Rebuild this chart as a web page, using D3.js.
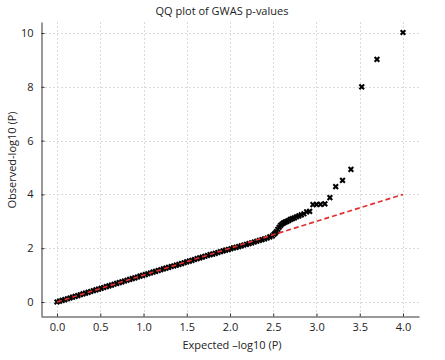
<!DOCTYPE html>
<html>
<head>
<meta charset="utf-8">
<script src="https://cdn.jsdelivr.net/npm/d3@7"></script>
<style>
  html, body { margin: 0; padding: 0; background: #fff; }
  svg { display: block; font-family: "Open Sans", "Noto Sans", sans-serif; }
</style>
</head>
<body>
<svg id="chart" width="445" height="360"></svg>
<script>
// ---- data ----
const title = "QQ plot of GWAS p-values";
const xLabel = "Expected \u2013log10 (P)";
const yLabel = "Observed-log10 (P)";
const xTicks = [0.0, 0.5, 1.0, 1.5, 2.0, 2.5, 3.0, 3.5, 4.0];
const yTicks = [0, 2, 4, 6, 8, 10];

// bulk of the SNPs (hugging the diagonal)
const bulkExpected = [0.00,0.03,0.06,0.09,0.12,0.15,0.18,0.21,0.24,0.27,0.30,0.33,0.36,0.39,0.42,0.45,0.48,0.51,0.54,0.57,
  0.60,0.63,0.66,0.69,0.72,0.75,0.78,0.81,0.84,0.87,0.90,0.93,0.96,0.99,1.02,1.05,1.08,1.11,1.14,1.17,
  1.20,1.23,1.26,1.29,1.32,1.35,1.38,1.41,1.44,1.47,1.50,1.53,1.56,1.59,1.62,1.65,1.68,1.71,1.74,1.77,
  1.80,1.83,1.86,1.89,1.92,1.95,1.98,2.01,2.04,2.07,2.10,2.13,2.16,2.19,2.22,2.25,2.28,2.31,2.34,2.37,
  2.40,2.43,2.46,2.49];
const bulkObserved = [0.00,0.03,0.06,0.09,0.12,0.15,0.18,0.21,0.24,0.27,0.30,0.33,0.36,0.39,0.42,0.45,0.48,0.51,0.54,0.57,
  0.60,0.63,0.66,0.69,0.72,0.75,0.78,0.81,0.84,0.87,0.90,0.93,0.96,0.99,1.02,1.05,1.08,1.11,1.14,1.17,
  1.20,1.23,1.26,1.29,1.32,1.34,1.37,1.40,1.43,1.46,1.49,1.52,1.55,1.58,1.61,1.64,1.67,1.70,1.73,1.76,
  1.78,1.81,1.84,1.87,1.90,1.93,1.95,1.98,2.01,2.03,2.06,2.09,2.12,2.14,2.17,2.20,2.23,2.26,2.29,2.32,
  2.35,2.38,2.42,2.46];

// upper tail (top-ranked SNPs)
const tailExpected = [4.000,3.699,3.523,3.398,3.301,3.222,3.155,3.097,3.046,3.000,2.959,2.921,2.886,2.854,2.824,
  2.796,2.770,2.745,2.721,2.699,2.678,2.658,2.638,2.620,2.602,2.585,2.569,2.553,2.538,2.523,2.509];
const tailObserved = [10.02,9.02,8.00,4.93,4.52,4.29,3.88,3.65,3.63,3.63,3.62,3.37,3.35,3.28,3.24,
  3.20,3.17,3.13,3.10,3.07,3.03,3.00,2.97,2.94,2.90,2.85,2.78,2.70,2.62,2.56,2.52];

// y = x reference line end points
const refLine = [0, 4];

// ---- chart ----
const svg = d3.select("#chart");
const x = d3.scaleLinear().domain([-0.185, 4.185]).range([41, 419]);
const y = d3.scaleLinear().domain([-0.52, 10.41]).range([316, 22]);

// grid
const grid = svg.append("g").attr("stroke", "#dadada").attr("stroke-width", 1).attr("stroke-dasharray", "2,2");
grid.selectAll("line.v").data(xTicks).join("line")
  .attr("x1", d => Math.round(x(d)) + 0.5).attr("x2", d => Math.round(x(d)) + 0.5)
  .attr("y1", y.range()[1]).attr("y2", y.range()[0]);
grid.selectAll("line.h").data(yTicks).join("line")
  .attr("y1", d => Math.round(y(d)) + 0.5).attr("y2", d => Math.round(y(d)) + 0.5)
  .attr("x1", x.range()[0]).attr("x2", x.range()[1]);

// axes
const xAxis = svg.append("g").attr("transform", `translate(0,${y.range()[0] + 0.5})`)
  .call(d3.axisBottom(x).tickValues(xTicks).tickFormat(d3.format(".1f")).tickSizeInner(-3).tickSizeOuter(0).tickPadding(7));
const yAxis = svg.append("g").attr("transform", `translate(${x.range()[0] + 0.5},0)`)
  .call(d3.axisLeft(y).tickValues(yTicks).tickFormat(d3.format("d")).tickSizeInner(-3).tickSizeOuter(0).tickPadding(8));
[xAxis, yAxis].forEach(a => {
  a.select(".domain").attr("stroke", "#333");
  a.selectAll(".tick line").attr("stroke", "#333");
  a.selectAll(".tick text").attr("fill", "#222").style("font-size", "11px").style("font-family", "'Open Sans', sans-serif");
});

// points
const sym = d3.symbol().type(d3.symbolTimes).size(16);
const bulk = bulkExpected.map((e, i) => [e, bulkObserved[i]]);
const tail = tailExpected.map((e, i) => [e, tailObserved[i]]);
svg.append("g").selectAll("path").data(bulk.concat(tail)).join("path")
  .attr("transform", d => `translate(${x(d[0])},${y(d[1])})`)
  .attr("d", sym)
  .attr("fill", "none").attr("stroke", "#000").attr("stroke-width", 2.1);

// reference line
svg.append("line")
  .attr("x1", x(refLine[0])).attr("y1", y(refLine[0]))
  .attr("x2", x(refLine[1])).attr("y2", y(refLine[1]))
  .attr("stroke", "#e0302d").attr("stroke-width", 1.6).attr("stroke-dasharray", "5,3");

// labels
svg.append("text").attr("x", 222).attr("y", 15).attr("text-anchor", "middle")
  .style("font-size", "11px").attr("fill", "#222").text(title);
svg.append("text").attr("x", 232).attr("y", 349).attr("text-anchor", "middle")
  .style("font-size", "11px").attr("fill", "#222").text(xLabel);
svg.append("text").attr("transform", "translate(16,160) rotate(-90)").attr("text-anchor", "middle")
  .style("font-size", "11px").attr("fill", "#222").text(yLabel);
</script>
</body>
</html>
